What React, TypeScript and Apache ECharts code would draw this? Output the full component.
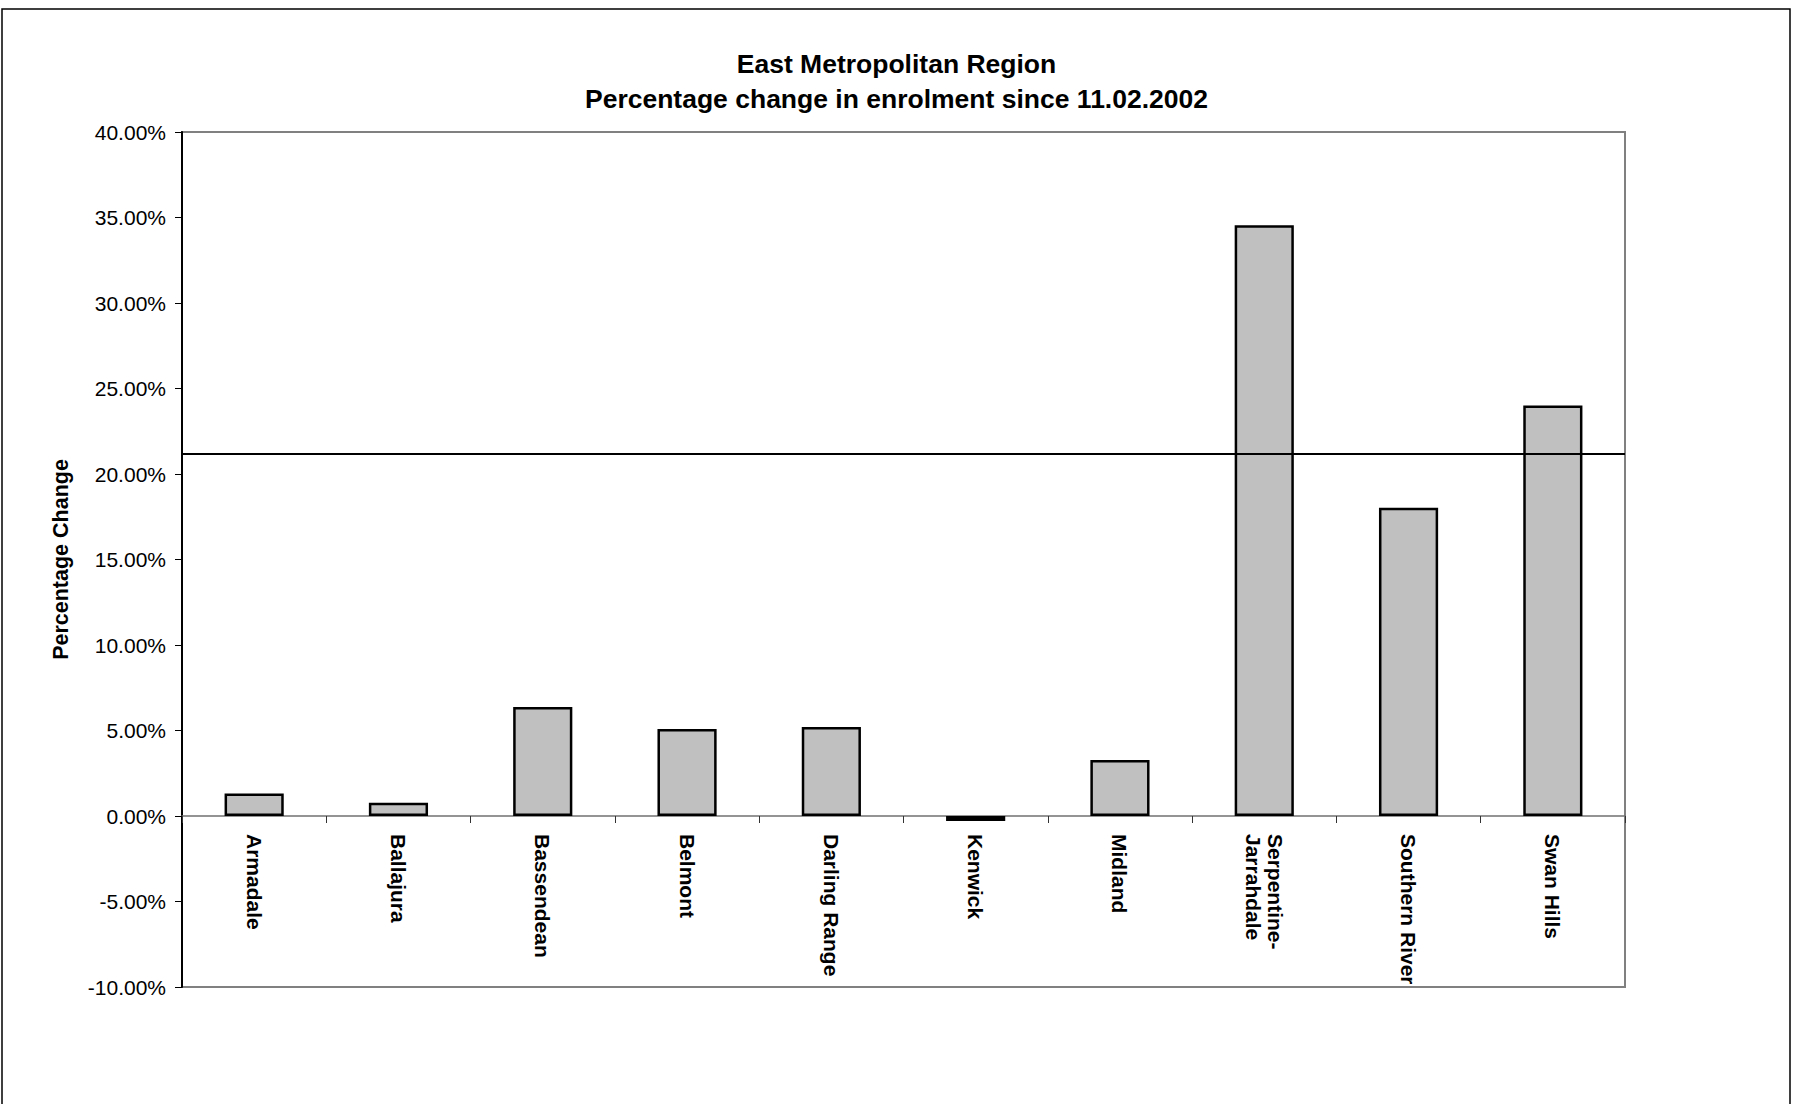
import React, { useEffect, useRef } from "react";
import * as echarts from "echarts";

const categories = [
  "Armadale",
  "Ballajura",
  "Bassendean",
  "Belmont",
  "Darling Range",
  "Kenwick",
  "Midland",
  "Serpentine-\nJarrahdale",
  "Southern River",
  "Swan Hills",
];
const percentChange = [1.31, 0.78, 6.37, 5.09, 5.2, -0.29, 3.27, 34.54, 18.03, 24.0];
const regionAverage = 21.19;
const titleLines = ["East Metropolitan Region", "Percentage change in enrolment since 11.02.2002"];
const yAxisName = "Percentage Change";
const yMin = -10;
const yMax = 40;
const yStep = 5;

const FONT = "'Liberation Sans', Arial, sans-serif";

export default function App() {
  const ref = useRef<HTMLDivElement>(null);
  useEffect(() => {
    if (!ref.current) return;
    const chart = echarts.init(ref.current, null, { renderer: "svg" });
    const gridTop = 132;
    const gridHeight = 855;
    const zeroOffset = (gridHeight * (0 - yMin)) / (yMax - yMin);
    chart.setOption({
      animation: false,
      backgroundColor: "#ffffff",
      textStyle: { fontFamily: FONT },
      title: {
        text: titleLines.join("\n"),
        left: "center",
        top: 41,
        textStyle: {
          fontFamily: FONT,
          fontSize: 26.5,
          fontWeight: "bold",
          color: "#000",
          lineHeight: 35,
        },
      },
      graphic: [
        {
          type: "rect",
          shape: { x: 2, y: 9, width: 1788, height: 1200 },
          style: { fill: "none", stroke: "#000", lineWidth: 1.5 },
          silent: true,
          z: -10,
        },
      ],
      grid: {
        left: 182,
        top: gridTop,
        width: 1443,
        height: gridHeight,
        show: true,
        borderColor: "#808080",
        borderWidth: 2,
        backgroundColor: "#ffffff",
        containLabel: false,
        outerBoundsMode: "none",
      },
      xAxis: {
        type: "category",
        data: categories,
        position: "bottom",
        offset: -zeroOffset,
        axisLine: { onZero: false, lineStyle: { color: "#707070", width: 1.5 } },
        axisTick: { show: true, length: 7, lineStyle: { color: "#333", width: 1 } },
        axisLabel: {
          rotate: -90,
          margin: 18,
          fontFamily: FONT,
          fontSize: 21,
          fontWeight: "bold",
          color: "#000",
          lineHeight: 22,
          interval: 0,
        },
        splitLine: { show: false },
      },
      yAxis: {
        type: "value",
        min: yMin,
        max: yMax,
        interval: yStep,
        name: yAxisName,
        nameLocation: "middle",
        nameRotate: 90,
        nameGap: 110,
        nameTextStyle: {
          fontFamily: FONT,
          fontSize: 21.5,
          fontWeight: "bold",
          color: "#000",
        },
        axisLine: { show: true, lineStyle: { color: "#000", width: 2 } },
        axisTick: { show: true, length: 7, lineStyle: { color: "#000", width: 1 } },
        axisLabel: {
          margin: 16,
          fontFamily: FONT,
          fontSize: 21,
          color: "#000",
          formatter: (v: number) => v.toFixed(2) + "%",
        },
        splitLine: { show: false },
      },
      series: [
        {
          type: "bar",
          data: percentChange,
          barWidth: "41%",
          itemStyle: { color: "#c0c0c0", borderColor: "#000", borderWidth: 2.5 },
          markLine: {
            silent: true,
            symbol: ["none", "none"],
            label: { show: false },
            lineStyle: { color: "#000", width: 2, type: "solid" },
            data: [{ yAxis: regionAverage }],
          },
        },
      ],
    });
    return () => chart.dispose();
  }, []);
  return (
    <div
      ref={ref}
      style={{ position: "fixed", left: 0, top: 0, width: 1793, height: 1104, background: "#fff" }}
    />
  );
}
